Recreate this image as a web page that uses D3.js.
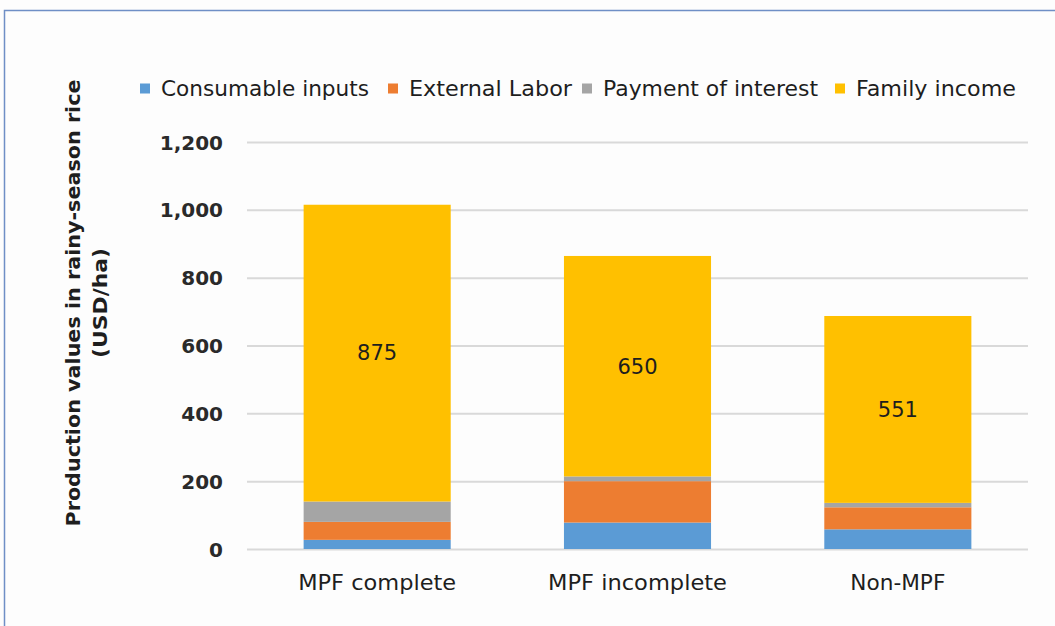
<!DOCTYPE html>
<html>
<head>
<meta charset="utf-8">
<script src="https://cdn.jsdelivr.net/npm/d3@7"></script>
<style>
  body { margin: 0; background: #fdfdfd; }
  svg text { font-family: 'DejaVu Sans', sans-serif; fill: #1e1e1e; }
  .axis.y .tick text { font-size: 20px; font-weight: bold; fill: #2a2a2a; }
  .x-axis .tick text { font-size: 21px; font-weight: normal; fill: #1e1e1e; }
  .legend text { font-size: 21px; }
  .val { font-size: 21px; }
  .axis-title { font-size: 19px; font-weight: bold; }
</style>
</head>
<body>
<svg id="chart"></svg>
<script>
var categories = ['MPF complete', 'MPF incomplete', 'Non-MPF'];
var seriesNames = ['Consumable inputs', 'External Labor', 'Payment of interest', 'Family income'];
var consumable = [27, 78, 58];
var externalLabor = [53, 122, 65];
var interest = [60, 14, 13];
var familyIncome = [875, 650, 551];
var yTicks = [0, 200, 400, 600, 800, 1000, 1200];
var colors = ['#5b9bd5', '#ed7d31', '#a5a5a5', '#ffc000'];

var W = 1055, H = 626;
var margin = {top: 142, right: 27, bottom: 77, left: 247};
var width = W - margin.left - margin.right;
var height = H - margin.top - margin.bottom;

var rows = categories.map(function(c, i) {
  return {cat: c, s0: consumable[i], s1: externalLabor[i], s2: interest[i], s3: familyIncome[i]};
});
var stack = d3.stack().keys(['s0', 's1', 's2', 's3'])(rows);

var svg = d3.select('#chart')
  .attr('width', W)
  .attr('height', H);

// outer frame
svg.append('rect')
  .attr('x', 4.5).attr('y', 10.5)
  .attr('width', W + 20).attr('height', H + 20)
  .style('fill', '#fdfdfd')
  .style('stroke', '#6f8fc6')
  .style('stroke-width', 1.5);

var g = svg.append('g')
  .attr('transform', 'translate(' + margin.left + ',' + margin.top + ')');

var x = d3.scaleBand()
  .domain(categories)
  .range([0, width])
  .paddingInner(0.435)
  .paddingOuter(0.2175);

var y = d3.scaleLinear()
  .domain([0, 1200])
  .range([height, 0]);

var yAxis = d3.axisLeft(y)
  .tickValues(yTicks)
  .tickFormat(d3.format(','))
  .tickSize(-width)
  .tickSizeOuter(0)
  .tickPadding(24);

var yAxisGroup = g.append('g')
  .attr('class', 'axis y')
  .call(yAxis);
yAxisGroup.select('.domain').remove();
yAxisGroup.selectAll('.tick line')
  .style('stroke', '#d9d9d9')
  .style('stroke-width', 2);
yAxisGroup.selectAll('.tick text').attr('dy', '0.35em');

g.selectAll('.layer')
  .data(stack)
  .enter()
  .append('g')
  .attr('class', 'layer')
  .style('fill', function(d, i) { return colors[i]; })
  .selectAll('rect')
  .data(function(d) { return d; })
  .enter()
  .append('rect')
  .attr('x', function(d) { return x(d.data.cat); })
  .attr('width', x.bandwidth())
  .attr('y', function(d) { return y(d[1]); })
  .attr('height', function(d) { return y(d[0]) - y(d[1]); });

// family income labels
g.selectAll('.val')
  .data(stack[3])
  .enter()
  .append('text')
  .attr('class', 'val')
  .attr('x', function(d) { return x(d.data.cat) + x.bandwidth() / 2; })
  .attr('y', function(d) { return y((d[0] + d[1]) / 2); })
  .attr('dy', '0.35em')
  .style('text-anchor', 'middle')
  .text(function(d) { return d.data.s3; });

var xAxis = d3.axisBottom(x).tickSize(0).tickPadding(26);
var xAxisGroup = g.append('g')
  .attr('class', 'x-axis')
  .attr('transform', 'translate(0,' + height + ')')
  .call(xAxis);
xAxisGroup.select('.domain').remove();
var xLabelWidths = [158, 179, 95];
xAxisGroup.selectAll('.tick text')
  .attr('textLength', function(d, i) { return xLabelWidths[i]; })
  .attr('lengthAdjust', 'spacingAndGlyphs');

// legend
var legend = svg.append('g').attr('class', 'legend');
var legendX = [140, 388, 582, 835];
var legendW = [208, 163, 215, 160];
seriesNames.forEach(function(name, i) {
  var item = legend.append('g').attr('transform', 'translate(' + legendX[i] + ',88.5)');
  item.append('rect')
    .attr('x', 0).attr('y', -5)
    .attr('width', 10).attr('height', 10)
    .style('fill', colors[i]);
  item.append('text')
    .attr('x', 21).attr('y', 0)
    .attr('dy', '0.35em')
    .attr('textLength', legendW[i])
    .attr('lengthAdjust', 'spacingAndGlyphs')
    .text(name);
});

// y axis title
var title = svg.append('text')
  .attr('class', 'axis-title')
  .attr('transform', 'translate(80,303) rotate(-90)')
  .style('text-anchor', 'middle');
title.append('tspan').attr('x', 0).attr('dy', 0)
  .attr('textLength', 447).attr('lengthAdjust', 'spacingAndGlyphs')
  .text('Production  values in rainy-season rice');
title.append('tspan').attr('x', 0).attr('dy', 27)
  .attr('textLength', 110).attr('lengthAdjust', 'spacingAndGlyphs')
  .text('(USD/ha)');
</script>
</body>
</html>
